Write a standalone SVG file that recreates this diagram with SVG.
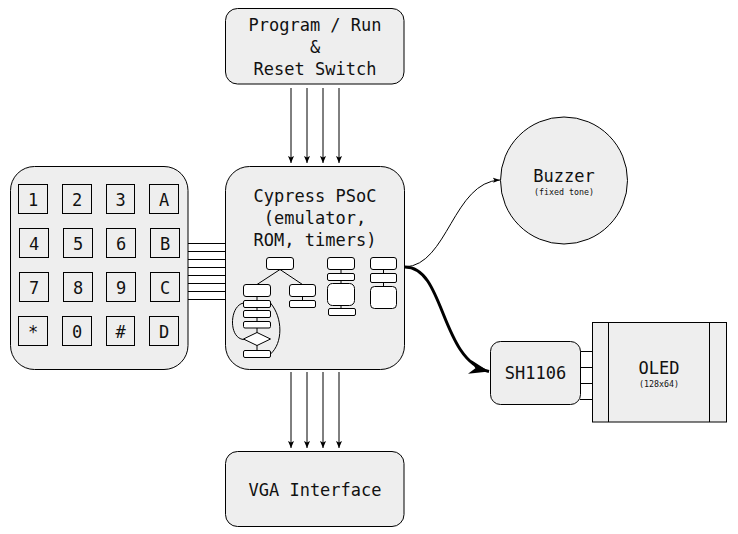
<svg xmlns="http://www.w3.org/2000/svg" width="738" height="534" viewBox="0 0 738 534">
<style>
.b{fill:#eeeeee;stroke:#000;stroke-width:1}
.w{fill:#fff;stroke:#000;stroke-width:1}
.l{fill:none;stroke:#000;stroke-width:1}
text{font-family:"DejaVu Sans Mono",monospace;fill:#111;text-anchor:middle}
.t{font-size:17px}
.s{font-size:8.3px}
</style>
<defs>
<marker id="a" markerUnits="userSpaceOnUse" markerWidth="8" markerHeight="8" refX="7" refY="4" orient="auto" viewBox="0 0 8 8"><path d="M0 1 L7 4 L0 7 L1.500 4Z" fill="#000"/></marker>
<marker id="c" markerUnits="userSpaceOnUse" markerWidth="8" markerHeight="8" refX="7" refY="4" orient="auto" viewBox="0 0 8 8"><path d="M0 1.500 L7 4 L0 6.500 L1.500 4Z" fill="#000"/></marker>
<marker id="h" markerUnits="userSpaceOnUse" markerWidth="21" markerHeight="16" refX="20" refY="8" orient="auto" viewBox="0 0 21 16"><path d="M0 1 L20 8 L0 15 L6 8Z" fill="#000"/></marker>
</defs>
<g id="connectors">
<path class="l" marker-end="url(#a)" d="M291 88V163"/>
<path class="l" marker-end="url(#a)" d="M307 88V163"/>
<path class="l" marker-end="url(#a)" d="M323 88V163"/>
<path class="l" marker-end="url(#a)" d="M339 88V163"/>
<path class="l" marker-end="url(#a)" d="M291 372V448"/>
<path class="l" marker-end="url(#a)" d="M307 372V448"/>
<path class="l" marker-end="url(#a)" d="M323 372V448"/>
<path class="l" marker-end="url(#a)" d="M339 372V448"/>
<path class="l" d="M188 243.500H225M188 251.500H225M188 259.500H225M188 267.500H225M188 275.500H225M188 283.500H225M188 291.500H225M188 299.500H225"/>
<path class="l" d="M580 351.500H592M580 367.500H592M580 383.500H592M580 399.500H592"/>
<path class="l" marker-end="url(#c)" d="M405 267C448 265 453 182 500 180"/>
<path fill="none" stroke="#000" stroke-width="3" marker-end="url(#h)" d="M405 267C445 267 440 360 489 371.500"/>
</g>
<g id="program"><rect class="b" x="225.500" y="8.500" width="178.500" height="75.500" rx="12"/>
<text class="t" x="315" y="31">Program / Run</text><text class="t" x="315" y="53">&amp;</text><text class="t" x="315" y="75">Reset Switch</text></g>
<g id="psoc"><rect class="b" x="225.500" y="166.500" width="179" height="203" rx="24"/>
<text class="t" x="315" y="202">Cypress PSoC</text><text class="t" x="315" y="224">(emulator,</text><text class="t" x="315" y="246">ROM, timers)</text>
<path class="l" d="M280 269.500L257 284.500M280 269.500L302.500 284.500M257 296.500V350.500M302.500 296.500V300.500M341 269.500V308.500M383.500 269.500V286.500"/>
<path class="l" d="M243.500 303C228 306 228 345 249 339M270.500 303C283 318 283 343 270.500 354"/>
<rect class="w" x="266.500" y="257.500" width="27" height="12" rx="2.500"/>
<rect class="w" x="243.500" y="284.500" width="27" height="12" rx="2.500"/>
<rect class="w" x="289.500" y="284.500" width="26" height="12" rx="2.500"/>
<rect class="w" x="289.500" y="300.500" width="26" height="7" rx="1.500"/>
<rect class="w" x="243.500" y="300.500" width="27" height="7" rx="1.500"/>
<rect class="w" x="243.500" y="310.500" width="27" height="7" rx="1.500"/>
<rect class="w" x="243.500" y="321.500" width="27" height="6.500" rx="1.500"/>
<path class="w" d="M257 332.500L270.500 339L257 345.500L243.500 339Z"/>
<rect class="w" x="243.500" y="350.500" width="27" height="7" rx="1.500"/>
<rect class="w" x="327.500" y="257.500" width="27" height="12" rx="2.500"/>
<rect class="w" x="327.500" y="273.500" width="27" height="7" rx="1.500"/>
<rect class="w" x="327.500" y="283.500" width="27" height="22" rx="5"/>
<rect class="w" x="328.500" y="308.500" width="27" height="7" rx="1.500"/>
<rect class="w" x="370.500" y="257.500" width="26" height="12" rx="2.500"/>
<rect class="w" x="370.500" y="273.500" width="26" height="9" rx="1.500"/>
<rect class="w" x="370.500" y="286.500" width="26" height="22" rx="4"/></g>
<g id="keypad"><rect class="b" x="10.500" y="166.500" width="177.500" height="203" rx="24"/>
<rect class="b" x="18.500" y="184.500" width="29" height="29"/><text class="t" x="33" y="206">1</text>
<rect class="b" x="62.500" y="184.500" width="29" height="29"/><text class="t" x="77" y="206">2</text>
<rect class="b" x="106.500" y="184.500" width="28" height="29"/><text class="t" x="120.500" y="206">3</text>
<rect class="b" x="149.500" y="184.500" width="29" height="29"/><text class="t" x="164" y="206">A</text>
<rect class="b" x="19.500" y="228.500" width="29" height="29"/><text class="t" x="34" y="250">4</text>
<rect class="b" x="63.500" y="228.500" width="29" height="29"/><text class="t" x="78" y="250">5</text>
<rect class="b" x="106.500" y="228.500" width="29" height="29"/><text class="t" x="121" y="250">6</text>
<rect class="b" x="150.500" y="228.500" width="29" height="29"/><text class="t" x="165" y="250">B</text>
<rect class="b" x="19.500" y="272.500" width="29" height="29"/><text class="t" x="34" y="294">7</text>
<rect class="b" x="63.500" y="272.500" width="29" height="29"/><text class="t" x="78" y="294">8</text>
<rect class="b" x="106.500" y="272.500" width="29" height="29"/><text class="t" x="121" y="294">9</text>
<rect class="b" x="150.500" y="272.500" width="29" height="29"/><text class="t" x="165" y="294">C</text>
<rect class="b" x="18.500" y="316.500" width="29" height="29"/><text class="t" x="33" y="338">*</text>
<rect class="b" x="62.500" y="316.500" width="29" height="29"/><text class="t" x="77" y="338">0</text>
<rect class="b" x="106.500" y="316.500" width="28" height="29"/><text class="t" x="120.500" y="338">#</text>
<rect class="b" x="149.500" y="316.500" width="29" height="29"/><text class="t" x="164" y="338">D</text></g>
<g id="vga"><rect class="b" x="225.500" y="451.500" width="178.500" height="75" rx="12"/><text class="t" x="315" y="496">VGA Interface</text></g>
<g id="buzzer"><circle class="b" cx="564" cy="180.500" r="63.500"/><text class="t" x="564" y="182">Buzzer</text><text class="s" x="564" y="195">(fixed tone)</text></g>
<g id="sh1106"><rect class="b" x="490.500" y="341.500" width="90" height="63" rx="10"/><text class="t" x="535.500" y="379">SH1106</text></g>
<g id="oled"><rect class="b" x="592.500" y="322.500" width="134" height="99.500"/><path class="l" d="M608.500 322.500V422M709.500 322.500V422"/><text class="t" x="659" y="374">OLED</text><text class="s" x="659" y="387">(128x64)</text></g>
</svg>
